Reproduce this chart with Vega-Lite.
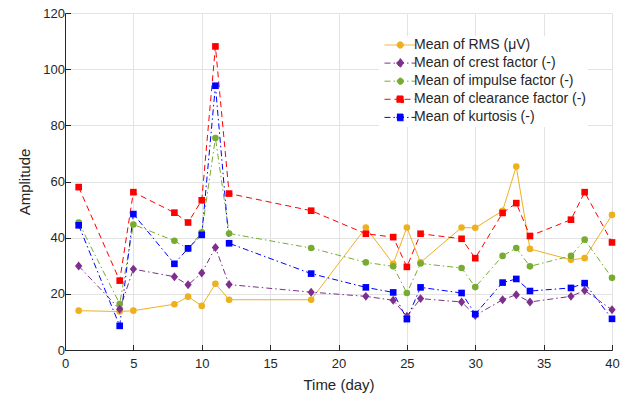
{
  "$schema": "https://vega.github.io/schema/vega-lite/v6.json",
  "width": 547,
  "height": 337,
  "autosize": "none",
  "padding": {"left": 65, "top": 13, "right": 13, "bottom": 45},
  "background": "white",
  "config": {
    "font": "Liberation Sans",
    "view": {"stroke": null},
    "axis": {
      "labelFont": "Liberation Sans",
      "titleFont": "Liberation Sans",
      "labelFontSize": 13,
      "titleFontSize": 15,
      "titleFontWeight": "normal",
      "labelColor": "#262626",
      "titleColor": "#262626",
      "tickColor": "#262626",
      "domainColor": "#262626",
      "domain": true,
      "labelFlush": false,
      "tickSize": -5.5,
      "tickWidth": 1,
      "gridColor": "#e3e3e3",
      "gridWidth": 1
    },
    "legend": {
      "labelFont": "Liberation Sans",
      "labelFontSize": 14,
      "labelColor": "#262626",
      "labelLimit": 0
    }
  },
  "data": {
    "values": [
      {"day": 1, "series": "Mean of RMS (μV)", "value": 14.0},
      {"day": 4, "series": "Mean of RMS (μV)", "value": 13.7},
      {"day": 5, "series": "Mean of RMS (μV)", "value": 14.0},
      {"day": 8, "series": "Mean of RMS (μV)", "value": 16.3},
      {"day": 9, "series": "Mean of RMS (μV)", "value": 19.0},
      {"day": 10, "series": "Mean of RMS (μV)", "value": 15.7},
      {"day": 11, "series": "Mean of RMS (μV)", "value": 23.6},
      {"day": 12, "series": "Mean of RMS (μV)", "value": 17.9},
      {"day": 18, "series": "Mean of RMS (μV)", "value": 17.9},
      {"day": 22, "series": "Mean of RMS (μV)", "value": 43.6},
      {"day": 24, "series": "Mean of RMS (μV)", "value": 30.7},
      {"day": 25, "series": "Mean of RMS (μV)", "value": 43.6},
      {"day": 26, "series": "Mean of RMS (μV)", "value": 31.2},
      {"day": 29, "series": "Mean of RMS (μV)", "value": 43.6},
      {"day": 30, "series": "Mean of RMS (μV)", "value": 43.5},
      {"day": 32, "series": "Mean of RMS (μV)", "value": 49.6},
      {"day": 33, "series": "Mean of RMS (μV)", "value": 65.3},
      {"day": 34, "series": "Mean of RMS (μV)", "value": 36.0},
      {"day": 37, "series": "Mean of RMS (μV)", "value": 32.1},
      {"day": 38, "series": "Mean of RMS (μV)", "value": 32.7},
      {"day": 40, "series": "Mean of RMS (μV)", "value": 48.1},

      {"day": 1, "series": "Mean of crest factor (-)", "value": 29.9},
      {"day": 4, "series": "Mean of crest factor (-)", "value": 14.5},
      {"day": 5, "series": "Mean of crest factor (-)", "value": 28.8},
      {"day": 8, "series": "Mean of crest factor (-)", "value": 26.1},
      {"day": 9, "series": "Mean of crest factor (-)", "value": 23.2},
      {"day": 10, "series": "Mean of crest factor (-)", "value": 27.4},
      {"day": 11, "series": "Mean of crest factor (-)", "value": 36.5},
      {"day": 12, "series": "Mean of crest factor (-)", "value": 23.3},
      {"day": 18, "series": "Mean of crest factor (-)", "value": 20.6},
      {"day": 22, "series": "Mean of crest factor (-)", "value": 19.1},
      {"day": 24, "series": "Mean of crest factor (-)", "value": 17.7},
      {"day": 25, "series": "Mean of crest factor (-)", "value": 12.0},
      {"day": 26, "series": "Mean of crest factor (-)", "value": 18.3},
      {"day": 29, "series": "Mean of crest factor (-)", "value": 17.1},
      {"day": 30, "series": "Mean of crest factor (-)", "value": 12.3},
      {"day": 32, "series": "Mean of crest factor (-)", "value": 17.9},
      {"day": 33, "series": "Mean of crest factor (-)", "value": 19.7},
      {"day": 34, "series": "Mean of crest factor (-)", "value": 17.1},
      {"day": 37, "series": "Mean of crest factor (-)", "value": 19.1},
      {"day": 38, "series": "Mean of crest factor (-)", "value": 21.2},
      {"day": 40, "series": "Mean of crest factor (-)", "value": 14.3},

      {"day": 1, "series": "Mean of impulse factor (-)", "value": 45.4},
      {"day": 4, "series": "Mean of impulse factor (-)", "value": 16.4},
      {"day": 5, "series": "Mean of impulse factor (-)", "value": 44.7},
      {"day": 8, "series": "Mean of impulse factor (-)", "value": 38.9},
      {"day": 9, "series": "Mean of impulse factor (-)", "value": 36.0},
      {"day": 10, "series": "Mean of impulse factor (-)", "value": 41.9},
      {"day": 11, "series": "Mean of impulse factor (-)", "value": 75.5},
      {"day": 12, "series": "Mean of impulse factor (-)", "value": 41.5},
      {"day": 18, "series": "Mean of impulse factor (-)", "value": 36.3},
      {"day": 22, "series": "Mean of impulse factor (-)", "value": 31.2},
      {"day": 24, "series": "Mean of impulse factor (-)", "value": 29.8},
      {"day": 25, "series": "Mean of impulse factor (-)", "value": 20.3},
      {"day": 26, "series": "Mean of impulse factor (-)", "value": 30.8},
      {"day": 29, "series": "Mean of impulse factor (-)", "value": 29.2},
      {"day": 30, "series": "Mean of impulse factor (-)", "value": 22.4},
      {"day": 32, "series": "Mean of impulse factor (-)", "value": 33.5},
      {"day": 33, "series": "Mean of impulse factor (-)", "value": 36.3},
      {"day": 34, "series": "Mean of impulse factor (-)", "value": 29.8},
      {"day": 37, "series": "Mean of impulse factor (-)", "value": 33.5},
      {"day": 38, "series": "Mean of impulse factor (-)", "value": 39.3},
      {"day": 40, "series": "Mean of impulse factor (-)", "value": 25.7},

      {"day": 1, "series": "Mean of clearance factor (-)", "value": 58.0},
      {"day": 4, "series": "Mean of clearance factor (-)", "value": 24.7},
      {"day": 5, "series": "Mean of clearance factor (-)", "value": 56.2},
      {"day": 8, "series": "Mean of clearance factor (-)", "value": 48.9},
      {"day": 9, "series": "Mean of clearance factor (-)", "value": 45.4},
      {"day": 10, "series": "Mean of clearance factor (-)", "value": 53.3},
      {"day": 11, "series": "Mean of clearance factor (-)", "value": 108.1},
      {"day": 12, "series": "Mean of clearance factor (-)", "value": 55.7},
      {"day": 18, "series": "Mean of clearance factor (-)", "value": 49.6},
      {"day": 22, "series": "Mean of clearance factor (-)", "value": 41.4},
      {"day": 24, "series": "Mean of clearance factor (-)", "value": 40.2},
      {"day": 25, "series": "Mean of clearance factor (-)", "value": 29.6},
      {"day": 26, "series": "Mean of clearance factor (-)", "value": 41.4},
      {"day": 29, "series": "Mean of clearance factor (-)", "value": 39.6},
      {"day": 30, "series": "Mean of clearance factor (-)", "value": 32.7},
      {"day": 32, "series": "Mean of clearance factor (-)", "value": 48.8},
      {"day": 33, "series": "Mean of clearance factor (-)", "value": 52.3},
      {"day": 34, "series": "Mean of clearance factor (-)", "value": 40.6},
      {"day": 37, "series": "Mean of clearance factor (-)", "value": 46.4},
      {"day": 38, "series": "Mean of clearance factor (-)", "value": 56.2},
      {"day": 40, "series": "Mean of clearance factor (-)", "value": 38.3},

      {"day": 1, "series": "Mean of kurtosis (-)", "value": 44.4},
      {"day": 4, "series": "Mean of kurtosis (-)", "value": 8.6},
      {"day": 5, "series": "Mean of kurtosis (-)", "value": 48.4},
      {"day": 8, "series": "Mean of kurtosis (-)", "value": 30.7},
      {"day": 9, "series": "Mean of kurtosis (-)", "value": 36.2},
      {"day": 10, "series": "Mean of kurtosis (-)", "value": 41.0},
      {"day": 11, "series": "Mean of kurtosis (-)", "value": 94.1},
      {"day": 12, "series": "Mean of kurtosis (-)", "value": 38.0},
      {"day": 18, "series": "Mean of kurtosis (-)", "value": 27.2},
      {"day": 22, "series": "Mean of kurtosis (-)", "value": 22.3},
      {"day": 24, "series": "Mean of kurtosis (-)", "value": 20.5},
      {"day": 25, "series": "Mean of kurtosis (-)", "value": 11.0},
      {"day": 26, "series": "Mean of kurtosis (-)", "value": 22.3},
      {"day": 29, "series": "Mean of kurtosis (-)", "value": 20.3},
      {"day": 30, "series": "Mean of kurtosis (-)", "value": 12.8},
      {"day": 32, "series": "Mean of kurtosis (-)", "value": 24.0},
      {"day": 33, "series": "Mean of kurtosis (-)", "value": 25.3},
      {"day": 34, "series": "Mean of kurtosis (-)", "value": 21.0},
      {"day": 37, "series": "Mean of kurtosis (-)", "value": 22.1},
      {"day": 38, "series": "Mean of kurtosis (-)", "value": 23.8},
      {"day": 40, "series": "Mean of kurtosis (-)", "value": 11.1}
    ]
  },
  "encoding": {
    "x": {
      "field": "day", "type": "quantitative",
      "scale": {"domain": [0, 40], "nice": false, "zero": false},
      "axis": {"orient": "bottom", "values": [0, 5, 10, 15, 20, 25, 30, 35, 40], "title": "Time (day)", "labelPadding": 13, "titlePadding": 7, "grid": true}
    },
    "y": {
      "field": "value", "type": "quantitative",
      "scale": {"domain": [0, 120], "nice": false, "zero": false},
      "axis": {"orient": "left", "values": [0, 20, 40, 60, 80, 100, 120], "title": "Amplitude", "labelPadding": 6, "titlePadding": 10, "grid": true}
    },
    "color": {
      "field": "series", "type": "nominal",
      "scale": {
        "domain": ["Mean of RMS (μV)", "Mean of crest factor (-)", "Mean of impulse factor (-)", "Mean of clearance factor (-)", "Mean of kurtosis (-)"],
        "range": ["#EDB120", "#7E2F8E", "#77AC30", "#FF0000", "#0000FF"]
      },
      "legend": {
        "title": null,
        "orient": "none",
        "legendX": 314,
        "legendY": 23,
        "fillColor": "white",
        "padding": 2,
        "rowPadding": 4.1,
        "symbolSize": 49,
        "labelOffset": 19,
        "labelLimit": 0,
        "encode": {
          "symbols": {
            "update": {
              "shape": [
                {"test": "datum.value === 'Mean of RMS (μV)'", "value": "M-1,0H8M4.4,0A0.9,0.9 0 1,1 2.6,0A0.9,0.9 0 1,1 4.4,0Z"},
                {"test": "datum.value === 'Mean of crest factor (-)'", "value": "M-1,0H8M3.5,-1.3L4.55,0L3.5,1.3L2.45,0Z"},
                {"test": "datum.value === 'Mean of impulse factor (-)'", "value": "M-1,0H8M4.4,0A0.9,0.9 0 1,1 2.6,0A0.9,0.9 0 1,1 4.4,0Z"},
                {"value": "M-1,0H8M2.55,-0.95H4.45V0.95H2.55Z"}
              ],
              "strokeDash": [
                {"test": "datum.value === 'Mean of RMS (μV)'", "value": [1, 0]},
                {"test": "datum.value === 'Mean of clearance factor (-)'", "value": [6, 4]},
                {"value": [6, 3, 1.5, 3]}
              ],
              "stroke": [
                {"test": "datum.value === 'Mean of RMS (μV)'", "value": "#EDB120"},
                {"test": "datum.value === 'Mean of crest factor (-)'", "value": "#7E2F8E"},
                {"test": "datum.value === 'Mean of impulse factor (-)'", "value": "#77AC30"},
                {"test": "datum.value === 'Mean of clearance factor (-)'", "value": "#FF0000"},
                {"value": "#0000FF"}
              ],
              "fill": [
                {"test": "datum.value === 'Mean of RMS (μV)'", "value": "#EDB120"},
                {"test": "datum.value === 'Mean of crest factor (-)'", "value": "#7E2F8E"},
                {"test": "datum.value === 'Mean of impulse factor (-)'", "value": "#77AC30"},
                {"test": "datum.value === 'Mean of clearance factor (-)'", "value": "#FF0000"},
                {"value": "#0000FF"}
              ],
              "strokeWidth": {"value": 1},
              "opacity": {"value": 1}
            }
          }
        }
      }
    }
  },
  "layer": [
    {
      "data": {"values": [{}]},
      "mark": {"type": "rule", "color": "#262626", "strokeWidth": 1},
      "encoding": {
        "x": {"datum": 0, "type": "quantitative"},
        "x2": {"datum": 40},
        "y": {"datum": 120, "type": "quantitative"},
        "color": {"value": "#262626"}
      }
    },
    {
      "data": {"values": [{}]},
      "mark": {"type": "rule", "color": "#262626", "strokeWidth": 1},
      "encoding": {
        "x": {"datum": 40, "type": "quantitative"},
        "y": {"datum": 0, "type": "quantitative"},
        "y2": {"datum": 120},
        "color": {"value": "#262626"}
      }
    },
    {
      "transform": [{"filter": "datum.series === 'Mean of RMS (μV)'"}],
      "mark": {"type": "line", "strokeWidth": 1}
    },
    {
      "transform": [{"filter": "datum.series === 'Mean of crest factor (-)' || datum.series === 'Mean of impulse factor (-)' || datum.series === 'Mean of kurtosis (-)'"}],
      "mark": {"type": "line", "strokeWidth": 1, "strokeDash": [6, 3, 1.5, 3]}
    },
    {
      "transform": [{"filter": "datum.series === 'Mean of clearance factor (-)'"}],
      "mark": {"type": "line", "strokeWidth": 1, "strokeDash": [6, 4]}
    },
    {
      "transform": [{"filter": "datum.series === 'Mean of RMS (μV)' || datum.series === 'Mean of impulse factor (-)'"}],
      "mark": {"type": "point", "shape": "circle", "filled": true, "opacity": 1, "size": 44}
    },
    {
      "transform": [{"filter": "datum.series === 'Mean of crest factor (-)'"}],
      "mark": {"type": "point", "shape": "M0,-1.35L1.1,0L0,1.35L-1.1,0Z", "filled": true, "opacity": 1, "size": 44}
    },
    {
      "transform": [{"filter": "datum.series === 'Mean of clearance factor (-)' || datum.series === 'Mean of kurtosis (-)'"}],
      "mark": {"type": "point", "shape": "square", "filled": true, "opacity": 1, "size": 44}
    }
  ]
}
